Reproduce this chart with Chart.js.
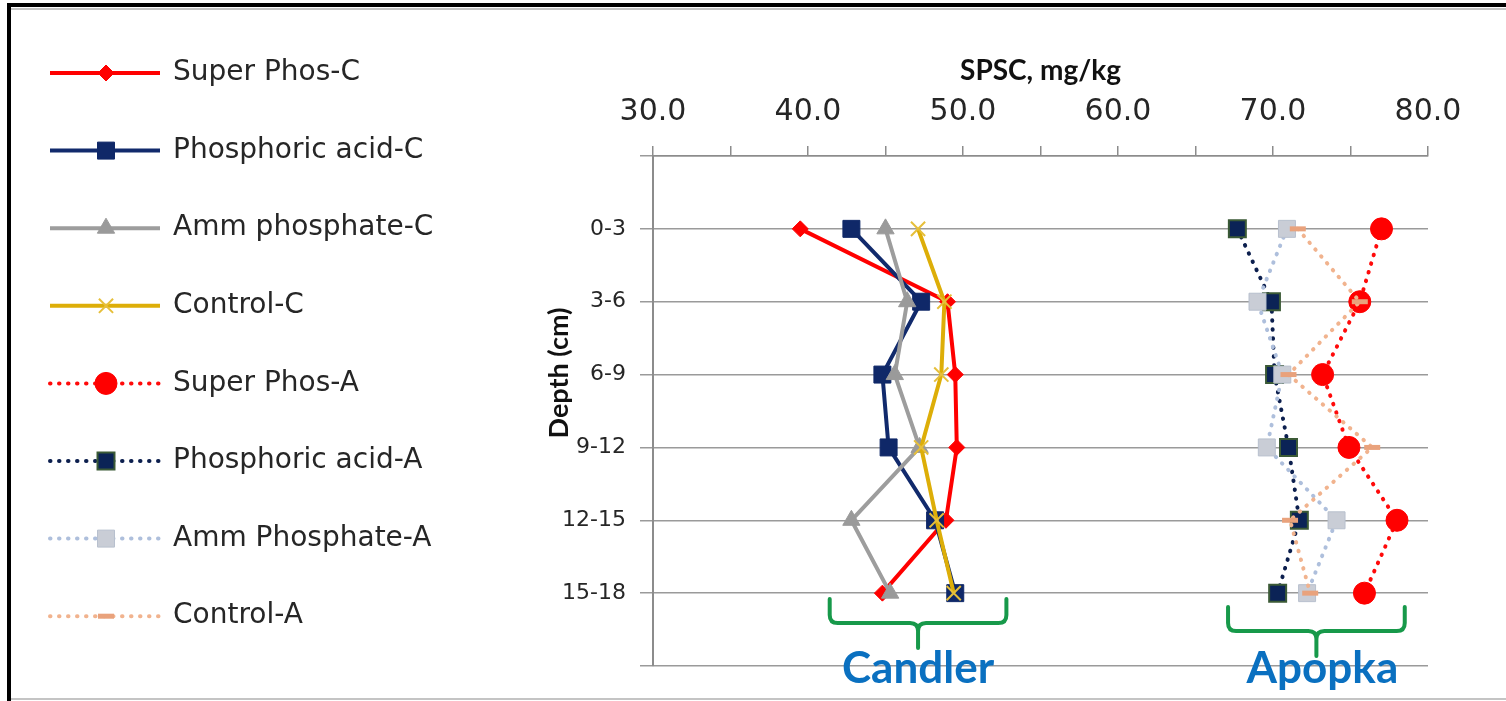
<!DOCTYPE html>
<html lang="en">
<head>
<meta charset="UTF-8">
<title>SPSC by depth - Candler and Apopka</title>
<style>
  html, body { margin: 0; padding: 0; background: #fff; }
  canvas { display: block; }
</style>
<script src="https://cdn.jsdelivr.net/npm/chart.js"></script>
</head>
<body>
<canvas id="spscChart" width="1506" height="701"></canvas>
<script>
// depth intervals (cm), top to bottom
const depths = ['0-3', '3-6', '6-9', '9-12', '12-15', '15-18'];

// SPSC, mg/kg - Candler
const superPhosC = [39.5, 49.0, 49.5, 49.6, 48.9, 44.8];
const phosAcidC  = [42.8, 47.3, 44.8, 45.2, 48.2, 49.5];
const ammPhosC   = [45.0, 46.4, 45.6, 47.2, 42.8, 45.3];
const controlC   = [47.1, 48.8, 48.6, 47.3, 48.3, 49.4];

// SPSC, mg/kg - Apopka
const superPhosA = [77.0, 75.6, 73.2, 74.9, 78.0, 75.9];
const phosAcidA  = [67.7, 69.9, 70.1, 71.0, 71.7, 70.3];
const ammPhosA   = [70.9, 69.0, 70.6, 69.6, 74.1, 72.2];
const controlA   = [71.6, 75.6, 71.0, 76.4, 71.1, 72.4];

// x axis range and step
const xMin = 30, xMax = 80, xStep = 5;

// brackets under each soil group (SPSC range they span)
const soilGroups = ['Candler', 'Apopka'];
const groupFrom = [41.4, 67.1];
const groupTo   = [52.8, 78.5];

const dotted = [0.5, 8.5];

const seriesDefs = [
  { label: 'Super Phos-C',       data: superPhosC, color: '#ff0000', dash: [],     style: 'rectRot',  r: 8,  fill: '#ff0000', edge: '#ff0000', ew: 1 },
  { label: 'Phosphoric acid-C',  data: phosAcidC,  color: '#112a6c', dash: [],     style: 'rect',     r: 12, fill: '#0f2868', edge: '#0f2868', ew: 1 },
  { label: 'Amm phosphate-C',    data: ammPhosC,   color: '#9d9d9d', dash: [],     style: 'triangle', r: 10, fill: '#9a9a9a', edge: '#9a9a9a', ew: 1 },
  { label: 'Control-C',          data: controlC,   color: '#ddae08', dash: [],     style: 'crossRot', r: 10, fill: '#ddae08', edge: '#e6bf3a', ew: 2 },
  { label: 'Super Phos-A',       data: superPhosA, color: '#ff0a0a', dash: dotted, style: 'circle',   r: 11, fill: '#ff0000', edge: '#ff0000', ew: 1 },
  { label: 'Phosphoric acid-A',  data: phosAcidA,  color: '#0c1f4e', dash: dotted, style: 'rect',     r: 12, fill: '#0b2356', edge: '#3b5a36', ew: 2 },
  { label: 'Amm Phosphate-A',    data: ammPhosA,   color: '#aebfdc', dash: dotted, style: 'rect',     r: 12, fill: '#c9cdd6', edge: '#b8c0ce', ew: 1 },
  { label: 'Control-A',          data: controlA,   color: '#f1b38e', dash: dotted, style: 'line',     r: 8,  fill: '#e9a27c', edge: '#e9a27c', ew: 5 }
];

const datasets = seriesDefs.map((s, i) => ({
  label: s.label,
  data: s.data.map((v, k) => ({ x: v, y: k + 1 })),
  borderColor: s.color,
  borderWidth: 4,
  borderDash: s.dash,
  borderCapStyle: s.dash.length ? 'round' : 'butt',
  borderJoinStyle: 'round',
  pointStyle: s.style,
  pointRadius: s.r,
  pointBackgroundColor: s.fill,
  pointBorderColor: s.edge,
  pointBorderWidth: s.ew,
  tension: 0,
  order: seriesDefs.length - i   // later series drawn on top
}));

function drawBrace(ctx, x1, x2, yTop, yMid, yTip) {
  const xm = (x1 + x2) / 2, r = 8;
  ctx.beginPath();
  ctx.moveTo(x1, yTop);
  ctx.lineTo(x1, yMid - r);
  ctx.quadraticCurveTo(x1, yMid, x1 + r, yMid);
  ctx.lineTo(xm - r, yMid);
  ctx.quadraticCurveTo(xm, yMid, xm, yMid + r);
  ctx.lineTo(xm, yTip);
  ctx.moveTo(xm, yMid + r);
  ctx.quadraticCurveTo(xm, yMid, xm + r, yMid);
  ctx.lineTo(x2 - r, yMid);
  ctx.quadraticCurveTo(x2, yMid, x2, yMid - r);
  ctx.lineTo(x2, yTop);
  ctx.stroke();
}

const extras = {
  id: 'extras',
  afterDraw(chart) {
    const ctx = chart.ctx;
    const xs = chart.scales.x;
    ctx.save();

    // legend down the left side
    chart.data.datasets.forEach((ds, i) => {
      const y = 73 + i * 77.6;
      ctx.strokeStyle = ds.borderColor;
      ctx.lineWidth = ds.borderWidth;
      ctx.lineCap = ds.borderCapStyle;
      ctx.setLineDash(ds.borderDash);
      ctx.beginPath();
      ctx.moveTo(50, y);
      ctx.lineTo(160, y);
      ctx.stroke();
      ctx.setLineDash([]);
      ctx.lineCap = 'butt';
      ctx.fillStyle = ds.pointBackgroundColor;
      ctx.strokeStyle = ds.pointBorderColor;
      ctx.lineWidth = ds.pointBorderWidth;
      Chart.helpers.drawPoint(ctx, {
        pointStyle: ds.pointStyle, radius: ds.pointRadius, rotation: 0, borderWidth: ds.pointBorderWidth
      }, 106, y);
      ctx.fillStyle = '#262626';
      ctx.font = '28px "DejaVu Sans"';
      ctx.textAlign = 'left';
      ctx.textBaseline = 'middle';
      ctx.fillText(ds.label, 173, y);
    });

    // y axis title
    ctx.save();
    ctx.translate(559, 373);
    ctx.rotate(-Math.PI / 2);
    ctx.fillStyle = '#111';
    ctx.font = 'bold 27px Lato';
    ctx.textAlign = 'center';
    ctx.textBaseline = 'middle';
    ctx.fillText('Depth (cm)', 0, 0);
    ctx.restore();

    // soil group brackets and names
    const bottom = chart.chartArea.bottom;
    soilGroups.forEach((name, i) => {
      const x1 = xs.getPixelForValue(groupFrom[i]);
      const x2 = xs.getPixelForValue(groupTo[i]);
      const dy = i * 8;
      ctx.strokeStyle = '#17994a';
      ctx.lineWidth = 4;
      ctx.lineCap = 'round';
      drawBrace(ctx, x1, x2, bottom - 67 + dy, bottom - 43 + dy, bottom - 18 + dy);
      ctx.fillStyle = '#0a70c0';
      ctx.font = 'bold 44px Lato';
      ctx.textAlign = 'center';
      ctx.textBaseline = 'alphabetic';
      ctx.fillText(name, (x1 + x2) / 2 + i * 6, bottom + 17);
    });

    // frame around the figure
    ctx.fillStyle = '#000';
    ctx.fillRect(7, 3, chart.width - 7, 4);
    ctx.fillRect(7, 3, 4, chart.height - 3);
    ctx.fillStyle = '#c4c4c4';
    ctx.fillRect(11, 8, chart.width - 11, 2);
    ctx.fillRect(11, chart.height - 3, chart.width - 11, 2);
    ctx.restore();
  }
};

new Chart(document.getElementById('spscChart'), {
  type: 'line',
  data: { datasets: datasets },
  options: {
    responsive: false,
    animation: false,
    layout: { padding: { left: 560, top: 40, right: 78, bottom: 35 } },
    plugins: { legend: { display: false }, tooltip: { enabled: false } },
    scales: {
      x: {
        type: 'linear',
        position: 'top',
        min: xMin,
        max: xMax,
        afterFit: s => { s.height = 116; },
        ticks: {
          stepSize: xStep,
          autoSkip: false,
          maxRotation: 0,
          padding: 16,
          color: '#262626',
          font: { family: 'DejaVu Sans', size: 30 },
          callback: v => (v % 10 === 0 ? v.toFixed(1) : '')
        },
        grid: { drawOnChartArea: false, tickLength: 10, color: '#8c8c8c', lineWidth: 1.5 },
        border: { color: '#8c8c8c', width: 1.5 },
        title: {
          display: true,
          text: 'SPSC, mg/kg',
          color: '#111',
          font: { family: 'Lato', size: 28, weight: 'bold' },
          padding: { top: 14, bottom: 0 }
        }
      },
      y: {
        type: 'linear',
        min: 0,
        max: depths.length + 1,
        reverse: true,
        afterFit: s => { s.width = 93; },
        ticks: {
          stepSize: 1,
          padding: 14,
          color: '#262626',
          font: { family: 'DejaVu Sans', size: 22 },
          callback: v => depths[v - 1] || ''
        },
        grid: { color: '#9a9a9a', lineWidth: 1.5, tickLength: 13 },
        border: { color: '#8c8c8c', width: 2 }
      }
    }
  },
  plugins: [extras]
});
</script>
</body>
</html>
